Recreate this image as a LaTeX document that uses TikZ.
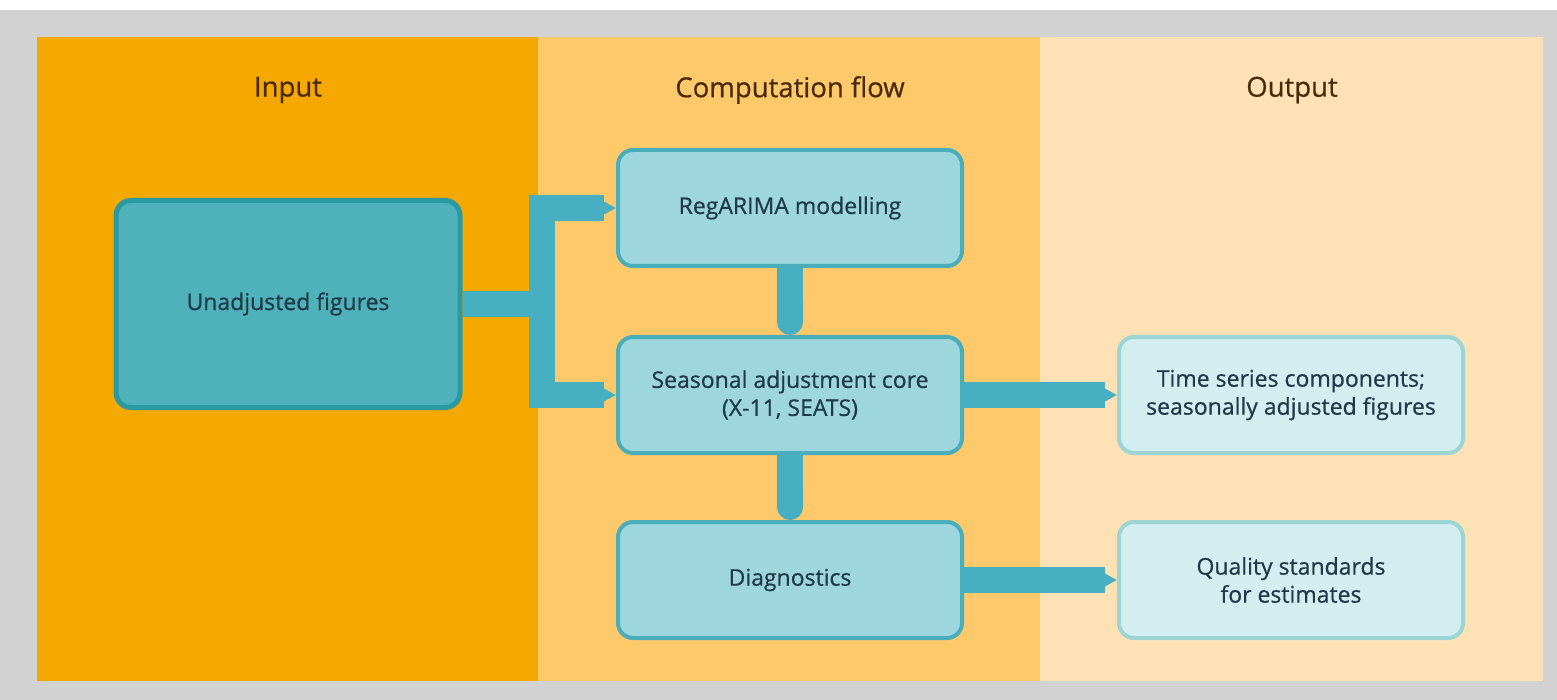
\documentclass[tikz,border=0pt]{standalone}
\usepackage{fontspec}
\setmainfont{Open Sans}
\newfontfamily\medfont[FakeBold=0.6]{Open Sans}
\usetikzlibrary{arrows.meta}
\definecolor{bggray}{HTML}{D2D2D2}
\definecolor{colA}{HTML}{F5A900}
\definecolor{colB}{HTML}{FDC96B}
\definecolor{colC}{HTML}{FEE2B6}
\definecolor{titlec}{HTML}{4A2A0A}
\definecolor{textc}{HTML}{1E3A48}
\definecolor{bandc}{HTML}{46AFC1}
\definecolor{midfill}{HTML}{9DD6DD}
\definecolor{midborder}{HTML}{4AADBA}
\definecolor{outfill}{HTML}{D3EEF0}
\definecolor{outborder}{HTML}{9DD4D4}
\definecolor{infill}{HTML}{4FB1BA}
\definecolor{inborder}{HTML}{2B99A2}
\tikzset{
  coltitle/.style={text=titlec, font=\medfont\fontsize{27.5}{30}\selectfont},
  midbox/.style={draw=midborder, line width=4pt, fill=midfill, rounded corners=15pt,
    minimum width=344pt, minimum height=116pt, align=center, text=textc,
    font=\medfont\fontsize{23}{28}\selectfont},
  outbox/.style={midbox, draw=outborder, fill=outfill},
  inbox/.style={midbox, draw=inborder, fill=infill, line width=5pt, minimum width=344pt, minimum height=207pt},
  band/.style={draw=bandc, line width=26pt, line join=miter},
  bandtip/.style={band, -{Triangle[length=13pt, width'=0pt 1]}},
  bandround/.style={band, -{Round Cap[]}}
}
\begin{document}
\begin{tikzpicture}[x=1pt, y=-1pt]
\useasboundingbox (0,0) rectangle (1557,700);
\fill[white] (0,0) rectangle (1557,700);
\fill[bggray] (0,10) rectangle (1557,700);
\fill[colA] (37,37) rectangle (538,681);
\fill[colB] (538,37) rectangle (1040,681);
\fill[colC] (1040,37) rectangle (1543,681);
\node[coltitle] (tin) at (288,90) {Input};
\node[coltitle] (tcomp) at (790,90) {Computation flow};
\node[coltitle] (tout) at (1292,90) {Output};
\node[inbox] (unadj) at (288,304) {Unadjusted figures};
\node[midbox] (reg) at (790,208) {RegARIMA modelling};
\node[midbox] (seas) at (790,395) {Seasonal adjustment core\\(X-11, SEATS)};
\node[midbox] (diag) at (790,580) {Diagnostics};
\node[outbox] (tsc) at (1291,395) {Time series components;\\seasonally adjusted figures};
\node[outbox] (qual) at (1291,580) {Quality standards\\for estimates};
\coordinate (fk) at (542,304);
\draw[band] (unadj.east) -- (fk);
\draw[bandtip] (fk) |- (reg.west);
\draw[bandtip] (fk) |- (seas.west);
\draw[bandround] (reg.south) -- (seas.north);
\draw[bandround] (seas.south) -- (diag.north);
\draw[bandtip] (seas.east) -- (tsc.west);
\draw[bandtip] (diag.east) -- (qual.west);
\end{tikzpicture}
\end{document}
